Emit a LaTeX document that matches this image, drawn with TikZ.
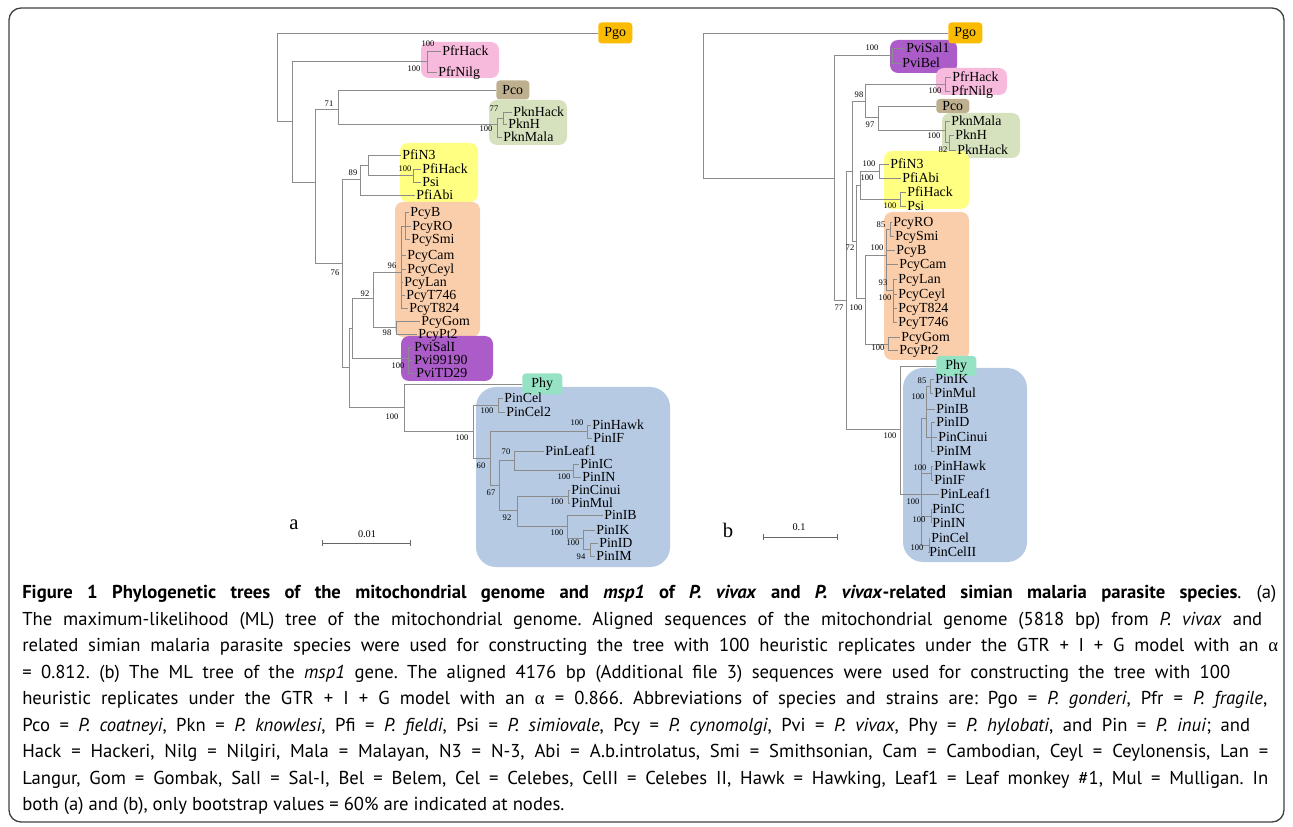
\documentclass[tikz,border=0pt]{standalone}
\usepackage{fontspec}
\setmainfont{Liberation Serif}
\newfontfamily\capfont{PT Sans}
\usetikzlibrary{arrows.meta}
\frenchspacing

% clade colours
\definecolor{cPgo}{RGB}{250,187,0}
\definecolor{cPfr}{RGB}{248,186,220}
\definecolor{cPco}{RGB}{190,176,142}
\definecolor{cPkn}{RGB}{214,226,190}
\definecolor{cPfi}{RGB}{255,255,130}
\definecolor{cPcy}{RGB}{250,206,170}
\definecolor{cPvi}{RGB}{172,92,200}
\definecolor{cPhy}{RGB}{150,226,196}
\definecolor{cPin}{RGB}{182,202,228}

\newcommand{\alp}{{\rmfamily α}}

\tikzset{
  br/.style={draw=black!45, line width=0.55pt},
  leaf/.style={anchor=west, inner sep=0.8pt, text height=7pt, text depth=0pt,
    font=\fontsize{10.4}{11}\selectfont},
  tag/.style={anchor=west, inner sep=0pt, rounded corners=2.5pt,
    font=\fontsize{10.4}{11}\selectfont},
  bs/.style={inner sep=0pt, font=\fontsize{6.4}{7}\selectfont},
  cladebox/.style={rounded corners=6pt},
  scalebar/.style={draw=black!60, line width=0.6pt, {Bar[width=4.5pt]}-{Bar[width=4.5pt]}},
  capline/.style={anchor=base west, inner sep=0pt, font=\capfont\fontsize{14}{16}\selectfont},
}

\begin{document}
\begin{tikzpicture}[x=0.75pt, y=-0.75pt]
\useasboundingbox (0,0) rectangle (1293,827);
% frame
\draw[draw=black!75, line width=1pt, rounded corners=9pt] (9,8) rectangle (1284,822);

%%%%% tree a: mitochondrial genome
% clade boxes
\fill[cladebox, cPfr] (421,42) rectangle (499,78);
\fill[cladebox, cPkn] (489,100) rectangle (567,145);
\fill[cladebox, cPfi] (400,143) rectangle (478,202);
\fill[cladebox, cPcy] (395,202) rectangle (480,337);
\fill[cladebox, cPvi] (401,336) rectangle (493,381);
\fill[cladebox, cPin, rounded corners=15pt] (476,387) rectangle (670,567);

% internal nodes
\coordinate (aR) at (277,76);
\coordinate (aA) at (292,121);
\coordinate (aPfr) at (427,61);
\coordinate (aB) at (315,182);
\coordinate (a71) at (338,109);
\coordinate (aPkn) at (497,124);
\coordinate (aPkn1) at (503,118);
\coordinate (a76) at (342,263);
\coordinate (a89) at (360,179);
\coordinate (aPfi1) at (368,165);
\coordinate (aPfi2) at (413,175);
\coordinate (aD) at (349,367);
\coordinate (aE) at (352,328);
\coordinate (a92) at (373,298);
\coordinate (a96) at (401,272);
\coordinate (aPcy1) at (405,226);
\coordinate (a98) at (396,327);
\coordinate (aPvi) at (408,358);
\coordinate (aPhyPin) at (404,407);
\coordinate (aPin) at (473,431);
\coordinate (aCel) at (498,405);
\coordinate (a60) at (490,458);
\coordinate (aHawk) at (587,431);
\coordinate (a67) at (499,485);
\coordinate (a70) at (514,460);
\coordinate (aIC) at (573,470);
\coordinate (a92b) at (517,510);
\coordinate (aCinui) at (568,496);
\coordinate (aIB) at (567,526);
\coordinate (aIK) at (583,538);
\coordinate (aID) at (590,549);

% single taxa in own box
\node[tag, fill=cPgo, minimum width=25.5pt, minimum height=15.75pt] (aPgo) at (598,33) {Pgo};
\node[tag, fill=cPco, minimum width=24.75pt, minimum height=14.25pt] (aPco) at (496,90) {Pco};
\node[tag, fill=cPhy, minimum width=30pt, minimum height=15.75pt] (aPhy) at (522,384) {Phy};

% leaves
\foreach \n/\x/\y in {PfrHack/441/51, PfrNilg/437/72, PknHack/512/112, PknH/507/124,
    PknMala/502/137, PfiN3/401/155, PfiHack/421/169, Psi/421/182, PfiAbi/415/195,
    PcyB/409/212, PcyRO/411/226, PcySmi/410/239, PcyCam/406/255, PcyCeyl/406/269,
    PcyLan/403/282, PcyT746/405/295, PcyT824/408/308, PcyGom/420/321, PcyPt2/417/334,
    PviSalI/413/347, Pvi99190/413/360, PviTD29/415/373, PinCel/503/398, PinCel2/505/412,
    PinHawk/591/425, PinIF/592/438, PinLeaf1/544/451, PinIC/579/464, PinIN/581/477,
    PinCinui/570/490, PinMul/570/503, PinIB/603/515, PinIK/595/530, PinID/598/543,
    PinIM/595/556}
  \node[leaf] (a\n) at (\x,\y) {\n};

% branches
\foreach \p/\c in {aR/aPgo, aR/aA, aA/aPfr, aA/aB, aPfr/aPfrHack, aPfr/aPfrNilg,
    aB/a71, aB/a76, a71/aPco, a71/aPkn, aPkn/aPkn1, aPkn/aPknMala, aPkn1/aPknHack,
    aPkn1/aPknH, a76/a89, a76/aD, a89/aPfi1, a89/aPfiAbi, aPfi1/aPfiN3, aPfi1/aPfi2,
    aPfi2/aPfiHack, aPfi2/aPsi, aD/aE, aD/aPhyPin, aE/a92, aE/aPvi, a92/a96, a92/a98,
    a96/aPcy1, a96/aPcyCam, a96/aPcyCeyl, a96/aPcyLan, a96/aPcyT746, a96/aPcyT824,
    aPcy1/aPcyB, aPcy1/aPcyRO, aPcy1/aPcySmi, a98/aPcyGom, a98/aPcyPt2,
    aPvi/aPviSalI, aPvi/aPvi99190, aPvi/aPviTD29, aPhyPin/aPhy, aPhyPin/aPin,
    aPin/aCel, aPin/a60, aCel/aPinCel, aCel/aPinCel2, a60/aHawk, a60/a67,
    aHawk/aPinHawk, aHawk/aPinIF, a67/a70, a67/a92b, a70/aPinLeaf1, a70/aIC,
    aIC/aPinIC, aIC/aPinIN, a92b/aCinui, a92b/aIB, aCinui/aPinCinui, aCinui/aPinMul,
    aIB/aPinIB, aIB/aIK, aIK/aPinIK, aIK/aID, aID/aPinID, aID/aPinIM}
  \draw[br] (\p) |- (\c);

% bootstrap values
\foreach \t/\x/\y [count=\i] in {100/428/44, 100/414/69, 71/329/104, 77/494/109,
    100/486/129, 89/353/173, 100/405/169, 76/335/273, 96/392/266, 92/365/294,
    98/387/333, 100/398/366, 100/392/417, 100/487/411, 100/462/438, 100/577/423,
    60/481/466, 70/506/452, 100/564/477, 67/491/493, 100/557/502, 92/507/518,
    100/557/533, 100/573/543, 94/581/557}
  \node[bs] (abs\i) at (\x,\y) {\t};

% scale and panel letter
\coordinate (aS0) at (322,543);
\coordinate (aS1) at (411,543);
\draw[scalebar] (aS0) -- (aS1);
\node[font=\fontsize{7.7}{8}\selectfont] (aScale) at (367,534) {0.01};
\node[font=\fontsize{15.5}{16}\selectfont] (aLetter) at (294,525) {a};

%%%%% tree b: msp1
% clade boxes
\fill[cladebox, cPvi] (890,40) rectangle (957,73);
\fill[cladebox, cPfr] (936,68) rectangle (1007,95);
\fill[cladebox, cPkn] (942,113) rectangle (1020,158);
\fill[cladebox, cPfi] (884,151) rectangle (969,209);
\fill[cladebox, cPcy] (884,212) rectangle (969,360);
\fill[cladebox, cPin, rounded corners=15pt] (903,368) rectangle (1027,562);

% internal nodes
\coordinate (bR) at (703,100);
\coordinate (bF) at (834,178);
\coordinate (bPvi) at (892,55);
\coordinate (bG) at (846,300);
\coordinate (bH) at (852,171);
\coordinate (b98) at (865,101);
\coordinate (bPfr) at (945,84);
\coordinate (b97) at (878,117);
\coordinate (bPkn) at (945,130);
\coordinate (bPkn2) at (949,142);
\coordinate (bI) at (856,241);
\coordinate (bPfi) at (860,185);
\coordinate (bPfi3) at (879,171);
\coordinate (bPfi4) at (900,199);
\coordinate (bPcy) at (865,298);
\coordinate (bPcy2) at (886,255);
\coordinate (bPcy3) at (890,229);
\coordinate (bPcy4) at (893,290);
\coordinate (bGom) at (888,344);
\coordinate (bPhyPin) at (900,429);
\coordinate (bPin) at (921,494);
\coordinate (bPinT) at (926,418);
\coordinate (bIK) at (930,386);
\coordinate (bID) at (931,437);
\coordinate (bHawk) at (931,473);
\coordinate (bIC) at (931,516);
\coordinate (bCel) at (929,545);

% single taxa in own box
\node[tag, fill=cPgo, minimum width=25.5pt, minimum height=15.75pt] (bPgo) at (948,33) {Pgo};
\node[tag, fill=cPco, minimum width=24.75pt, minimum height=10.5pt] (bPco) at (936,106) {Pco};
\node[tag, fill=cPhy, minimum width=30pt, minimum height=15pt] (bPhy) at (936,366) {Phy};

% leaves
\foreach \n/\x/\y in {PviSal1/905/48, PviBel/901/63, PfrHack/951/77, PfrNilg/950/91,
    PknMala/950/121, PknH/954/135, PknHack/956/150, PfiN3/889/164, PfiAbi/901/178,
    PfiHack/906/192, Psi/906/206, PcyRO/892/222, PcySmi/894/236, PcyB/895/250,
    PcyCam/898/264, PcyLan/897/279, PcyCeyl/897/294, PcyT824/897/308, PcyT746/897/322,
    PcyGom/900/337, PcyPt2/898/350, PinIK/934/379, PinMul/933/393, PinIB/935/409,
    PinID/935/422, PinCinui/937/437, PinIM/935/451, PinHawk/933/466, PinIF/933/480,
    PinLeaf1/939/494, PinIC/931/509, PinIN/931/523, PinCel/930/538, PinCelII/928/552}
  \node[leaf] (b\n) at (\x,\y) {\n};

% branches
\foreach \p/\c in {bR/bPgo, bR/bF, bF/bPvi, bF/bG, bPvi/bPviSal1, bPvi/bPviBel,
    bG/bH, bG/bPhyPin, bH/b98, bH/bI, b98/bPfr, b98/b97, bPfr/bPfrHack, bPfr/bPfrNilg,
    b97/bPco, b97/bPkn, bPkn/bPknMala, bPkn/bPkn2, bPkn2/bPknH, bPkn2/bPknHack,
    bI/bPfi, bI/bPcy, bPfi/bPfi3, bPfi/bPfi4, bPfi3/bPfiN3, bPfi3/bPfiAbi,
    bPfi4/bPfiHack, bPfi4/bPsi, bPcy/bPcy2, bPcy/bGom, bPcy2/bPcy3, bPcy2/bPcyB,
    bPcy2/bPcyCam, bPcy2/bPcy4, bPcy3/bPcyRO, bPcy3/bPcySmi, bPcy4/bPcyLan,
    bPcy4/bPcyCeyl, bPcy4/bPcyT824, bPcy4/bPcyT746, bGom/bPcyGom, bGom/bPcyPt2,
    bPhyPin/bPhy, bPhyPin/bPin, bPin/bPinT, bPin/bHawk, bPin/bPinLeaf1, bPin/bIC,
    bPin/bCel, bPinT/bIK, bPinT/bPinIB, bPinT/bID, bIK/bPinIK, bIK/bPinMul,
    bID/bPinID, bID/bPinCinui, bID/bPinIM, bHawk/bPinHawk, bHawk/bPinIF,
    bIC/bPinIC, bIC/bPinIN, bCel/bPinCel, bCel/bPinCelII}
  \draw[br] (\p) |- (\c);

% bootstrap values
\foreach \t/\x/\y [count=\i] in {100/872/48, 98/859/95, 100/935/91, 97/870/125,
    100/934/136, 82/943/150, 100/869/164, 100/867/178, 100/890/206, 85/881/225,
    100/877/248, 72/850/248, 93/883/283, 100/885/298, 77/839/308, 100/856/308,
    100/878/348, 100/890/436, 85/922/381, 100/918/397, 100/920/468, 100/913/502,
    100/919/520, 100/917/548}
  \node[bs] (bbs\i) at (\x,\y) {\t};

% scale and panel letter
\coordinate (bS0) at (763,537);
\coordinate (bS1) at (838,537);
\draw[scalebar] (bS0) -- (bS1);
\node[font=\fontsize{7.7}{8}\selectfont] (bScale) at (799,527) {0.1};
\node[font=\fontsize{15.5}{16}\selectfont] (bLetter) at (728,530) {b};

%%%%% caption
\node[capline] (c1) at (22,598.5) {\makebox[940.5pt][s]{\bfseries Figure 1 Phylogenetic trees of the mitochondrial genome and \textit{msp1} of \textit{P. vivax} and \textit{P. vivax}-related simian malaria parasite species\mdseries. (a)}};
\node[capline] (c2) at (22,625) {\makebox[930pt][s]{The maximum-likelihood (ML) tree of the mitochondrial genome. Aligned sequences of the mitochondrial genome (5818 bp) from \textit{P. vivax} and}};
\node[capline] (c3) at (22,651.5) {\makebox[942pt][s]{related simian malaria parasite species were used for constructing the tree with 100 heuristic replicates under the GTR + I + G model with an \alp}};
\node[capline] (c4) at (22,678) {\makebox[906pt][s]{= 0.812. (b) The ML tree of the \textit{msp1} gene. The aligned 4176 bp (Additional file 3) sequences were used for constructing the tree with 100}};
\node[capline] (c5) at (22,704.5) {\makebox[933.75pt][s]{heuristic replicates under the GTR + I + G model with an \alp{} = 0.866. Abbreviations of species and strains are: Pgo = \textit{P. gonderi}, Pfr = \textit{P. fragile},}};
\node[capline] (c6) at (22,731) {\makebox[921pt][s]{Pco = \textit{P. coatneyi}, Pkn = \textit{P. knowlesi}, Pfi = \textit{P. fieldi}, Psi = \textit{P. simiovale}, Pcy = \textit{P. cynomolgi}, Pvi = \textit{P. vivax}, Phy = \textit{P. hylobati}, and Pin = \textit{P. inui}; and}};
\node[capline] (c7) at (22,757.5) {\makebox[934.5pt][s]{Hack = Hackeri, Nilg = Nilgiri, Mala = Malayan, N3 = N-3, Abi = A.b.introlatus, Smi = Smithsonian, Cam = Cambodian, Ceyl = Ceylonensis, Lan =}};
\node[capline] (c8) at (22,784) {\makebox[934.5pt][s]{Langur, Gom = Gombak, SalI = Sal-I, Bel = Belem, Cel = Celebes, CelII = Celebes II, Hawk = Hawking, Leaf1 = Leaf monkey \#1, Mul = Mulligan. In}};
\node[capline] (c9) at (22,810.5) {both (a) and (b), only bootstrap values = 60\% are indicated at nodes.};
\end{tikzpicture}
\end{document}
